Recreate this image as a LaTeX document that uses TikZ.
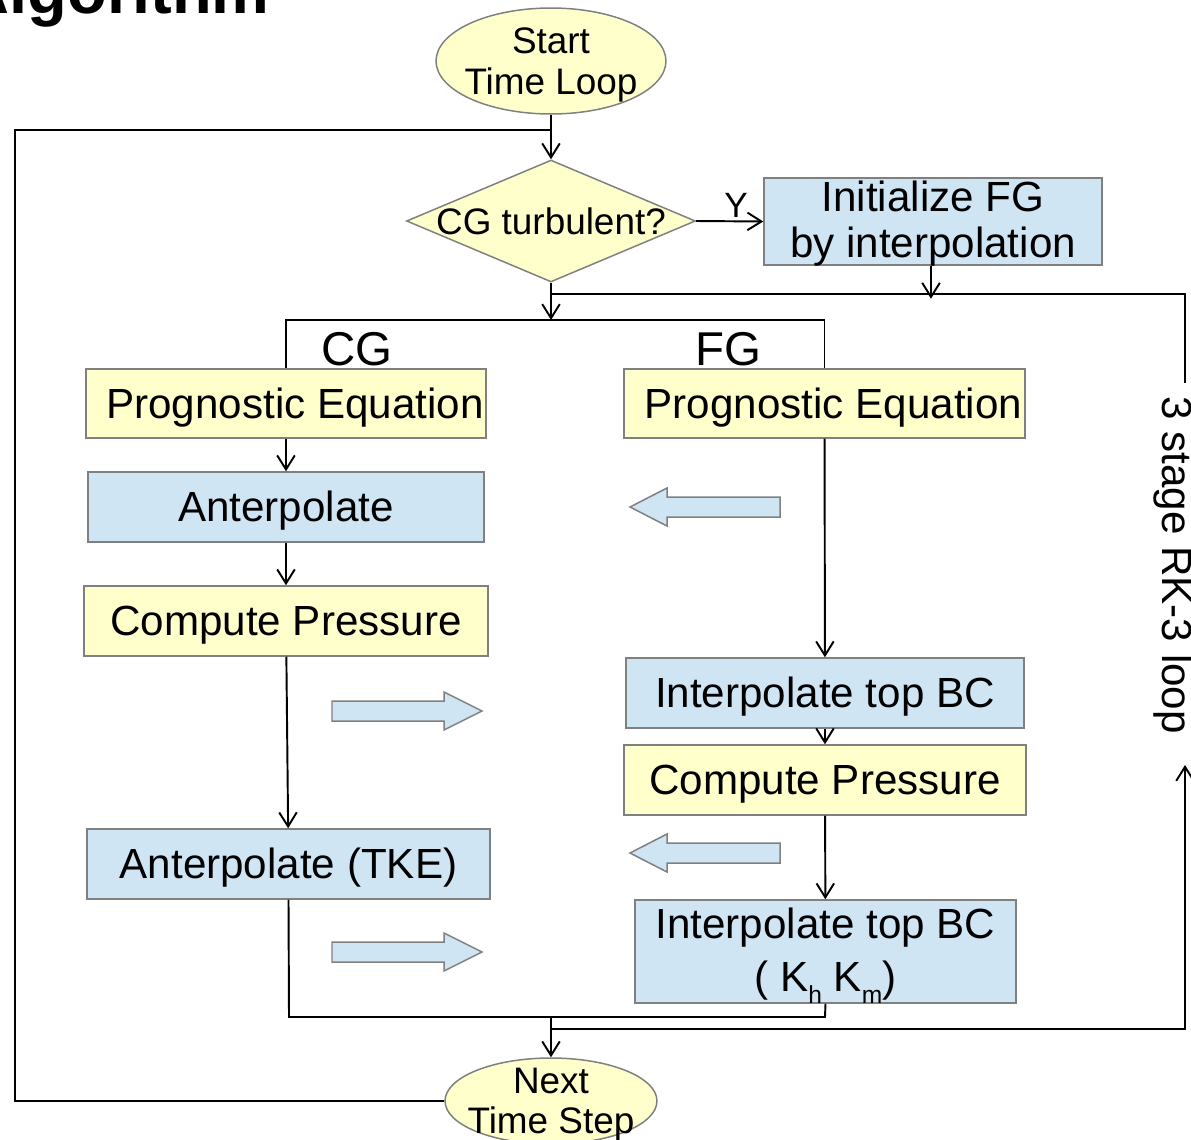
\documentclass[tikz,border=0pt]{standalone}
\usepackage{fontspec}
\setmainfont{Liberation Sans}
\usetikzlibrary{arrows.meta,shapes.geometric}
\definecolor{ylw}{HTML}{FFFFCC}
\definecolor{lblue}{HTML}{CFE5F3}
\definecolor{boxgray}{HTML}{808080}
\begin{document}
\begin{tikzpicture}[x=0.02cm,y=-0.02cm,
  box/.style={draw=boxgray, line width=0.85pt, rectangle, inner sep=0pt, font=\fontsize{24}{27}\selectfont, text height=21.7pt, text depth=5.1pt},
  mbox/.style={draw=boxgray, line width=0.85pt, rectangle, inner sep=0pt, align=center},
  ybox/.style={box, fill=ylw},
  bbox/.style={box, fill=lblue},
  oval/.style={ellipse, draw=boxgray, fill=ylw, line width=0.85pt, inner sep=0pt},
  ovtext/.style={inner sep=0pt, align=center, font=\fontsize{21}{23}\selectfont},
  conn/.style={line width=1.1pt, draw=black},
  arr/.style={conn, -{Straight Barb[length=8pt,width=10pt,line width=1.1pt]}},
  barrow/.style={draw=boxgray, fill=lblue, line width=0.85pt, line join=miter}
]
\clip (0,0) rectangle (1191,1140);

% title (cut off at top)
\node[font=\bfseries\fontsize{37}{40}\selectfont, anchor=base east, inner sep=0pt] (title) at (270,13) {Algorithm};

% start / end
\node[oval, minimum width=4.6cm, minimum height=2.12cm] (start) at (551,61) {};
\node[ovtext] (startt) at (551,65) {Start\\Time Loop};
\node[oval, minimum width=4.24cm, minimum height=1.72cm] (next) at (551,1101) {};
\node[ovtext] (nextt) at (551,1104.5) {Next\\Time Step};

% decision
\node[diamond, draw=boxgray, fill=ylw, line width=0.85pt, inner sep=0pt, minimum width=5.78cm, minimum height=2.44cm] (dia) at (551,221) {};
\node[font=\fontsize{21}{23}\selectfont, inner sep=0pt] (diat) at (dia.center) {CG turbulent?};

\node[mbox, fill=lblue, minimum width=6.76cm, minimum height=1.74cm] (init) at (933,221.5) {};
\node[inner sep=0pt, align=center, font=\fontsize{24}{26}\selectfont] (initt) at (933,223.5) {Initialize FG\\by interpolation};

% CG column
\node[ybox, minimum width=8cm, minimum height=1.38cm] (cgpe) at (286,403.5) {\hspace{0.36cm}Prognostic Equation};
\node[bbox, minimum width=7.92cm, minimum height=1.4cm] (ant) at (286,507) {Anterpolate};
\node[ybox, minimum width=8.08cm, minimum height=1.4cm] (cgcp) at (286,621) {Compute Pressure};
\node[bbox, minimum width=8.06cm, minimum height=1.4cm] (tke) at (288.5,864) {Anterpolate (TKE)};

% FG column
\node[ybox, minimum width=8.02cm, minimum height=1.38cm] (fgpe) at (824.5,403.5) {\hspace{0.36cm}Prognostic Equation};
\node[bbox, minimum width=7.96cm, minimum height=1.4cm] (itbc) at (825,693) {Interpolate top BC};
\node[ybox, minimum width=8.04cm, minimum height=1.4cm] (fgcp) at (825,780) {Compute Pressure};
\node[mbox, fill=lblue, minimum width=7.62cm, minimum height=2.06cm] (itbc2) at (825.5,951.5) {};
\node[inner sep=0pt, align=center, font=\fontsize{24}{30}\selectfont] (itbc2t) at (825.5,954) {Interpolate top BC\\( K\smash{\raisebox{-7pt}{\fontsize{14}{14}\selectfont h}} K\smash{\raisebox{-7pt}{\fontsize{14}{14}\selectfont m}})};

% column labels
\node[anchor=base, inner sep=0pt, font=\fontsize{27}{30}\selectfont] (cglab) at (357,365) {CG};
\node[anchor=base, inner sep=0pt, font=\fontsize{27}{30}\selectfont] (fglab) at (728,365) {FG};

% RK-3 loop label
\node[anchor=base, rotate=-90, inner sep=0pt, font=\fontsize{24}{27}\selectfont] (rk) at (1162,565) {3 stage RK-3 loop};

% coordinates
\coordinate (lt) at (15,130);
\coordinate (lb) at (15,1101);
\coordinate (jt) at (551,130);
\coordinate (bt) at (551,320);
\coordinate (j1) at (551,294);
\coordinate (r1) at (1185,294);
\coordinate (r1b) at (1185,383);
\coordinate (bl) at (289,1017);
\coordinate (br) at (825,1017);
\coordinate (bm) at (551,1017);
\coordinate (j2) at (551,1029);
\coordinate (r2) at (1185,1029);
\coordinate (r2t) at (1185,765);

% connectors
\draw[conn] (next.west) -- (lb) -- (lt) -- (jt);
\draw[arr] (start.south) -- (dia.north);
\draw[arr] (dia.east) -- (init.west);
\node[anchor=base, inner sep=0pt, font=\fontsize{20}{22}\selectfont] (ylab) at (736,217) {Y};
\draw[arr] (dia.south) -- (bt);
\draw[conn] (j1) -- (r1) -- (r1b);
\draw[arr] ([xshift=-2*0.02cm]init.south) -- ++(0,33);
\draw[conn] (cgpe.north) -- (cgpe.north |- bt) -- (fgpe.north |- bt) -- (fgpe.north);
\draw[arr] (cgpe) -- (ant);
\draw[arr] (ant) -- (cgcp);
\draw[arr] (cgcp) -- (tke);
\draw[arr] (fgpe) -- (itbc);
\draw[arr] (itbc) -- (fgcp);
\draw[arr] (fgcp) -- (itbc2);
\draw[conn] (tke.south) -- (bl) -- (br) -- (itbc2.south);
\draw[arr] (bm) -- (next.north);
\draw[arr] (j2) -- (r2) -- (r2t);

% block arrows
\draw[barrow] (780,497) -- (667,497) -- (667,488) -- (630,507) -- (667,526) -- (667,517) -- (780,517) -- cycle;
\draw[barrow] (780,843) -- (667,843) -- (667,834) -- (630,853) -- (667,872) -- (667,863) -- (780,863) -- cycle;
\draw[barrow] (332,701) -- (444,701) -- (444,692) -- (482,711) -- (444,730) -- (444,721) -- (332,721) -- cycle;
\draw[barrow] (332,942) -- (444,942) -- (444,933) -- (482,952) -- (444,971) -- (444,962) -- (332,962) -- cycle;
\end{tikzpicture}
\end{document}
